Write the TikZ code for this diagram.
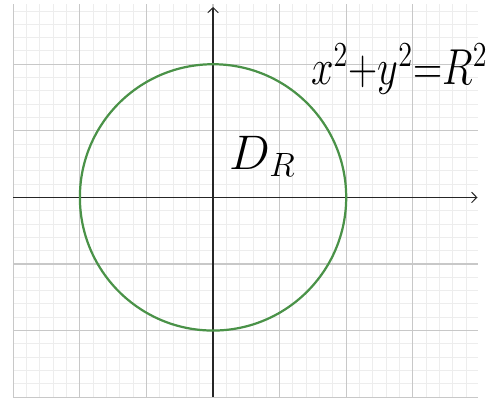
\documentclass[tikz,border=0pt]{standalone}
\usetikzlibrary{arrows.meta}
\definecolor{minorgrid}{HTML}{EDEDED}
\definecolor{majorgrid}{HTML}{C8C8C8}
\definecolor{circgreen}{HTML}{4A9248}
\tikzset{
  minorlines/.style={draw=minorgrid, line width=0.4pt},
  majorlines/.style={draw=majorgrid, line width=0.5pt},
  axisline/.style={draw=black!85, line width=0.6pt, -{Straight Barb[length=2.2pt,width=4.5pt,line width=0.4pt]}},
  curve/.style={draw=circgreen, line width=0.95pt},
  hand/.style={inner sep=0pt, text=black}
}
\begin{document}
\begin{tikzpicture}
\useasboundingbox (-3.2,-3.086) rectangle (4.22,2.965);
\fill[white] (-3.2,-3.086) rectangle (4.22,2.965);
\draw[minorlines, step=0.2] (-3,-3) grid (3.98,2.9);
\draw[majorlines, step=1] (-3,-3) grid (3.98,2.9);
\coordinate (xl) at (-3,0);
\coordinate (xr) at (3.97,0);
\coordinate (yb) at (0,-3);
\coordinate (yt) at (0,2.86);
\draw[axisline] (xl) -- (xr);
\draw[axisline] (yb) -- (yt);
\node[curve, circle, minimum size=4cm, inner sep=0pt] (c) at (0,0) {};
\node[hand, font=\fontsize{17}{20}\selectfont] (eq) at (2.80,1.93) {\scalebox{1}[1.25]{$x^2{+}y^2{=}R^2$}};
\node[hand, font=\fontsize{22}{26}\selectfont] (dr) at (0.75,0.62) {$D_R$};
\end{tikzpicture}
\end{document}
